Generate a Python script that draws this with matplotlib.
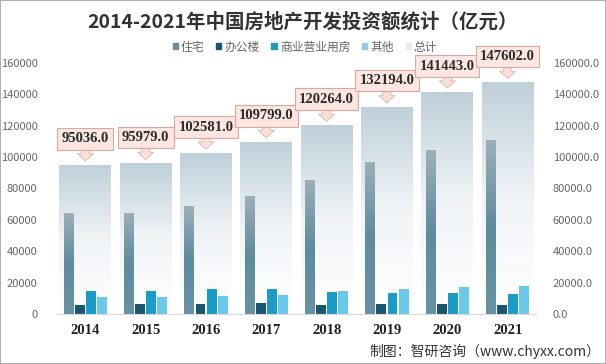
import numpy as np
import matplotlib.pyplot as plt
from matplotlib.colors import LinearSegmentedColormap

plt.rcParams['font.family'] = ['Noto Sans CJK SC', 'DejaVu Sans']

years = ['2014', '2015', '2016', '2017', '2018', '2019', '2020', '2021']
residential = [64352, 64595, 68704, 75148, 85192, 97071, 104446, 111173]
office = [5641, 6210, 6533, 6761, 5996, 6163, 6494, 5974]
commercial = [14346, 14607, 15838, 15640, 14177, 13226, 13076, 12445]
other = [10697, 10567, 11506, 12250, 14899, 15734, 17427, 18010]
total = [95036, 95979, 102581, 109799, 120264, 132194, 141443, 147602]

fig = plt.figure(figsize=(6.06, 3.64), dpi=100)
ax = fig.add_axes([57/606, 50/364, 479/606, 251/364])
x = np.arange(len(years))

# gradient fills
grad_total = LinearSegmentedColormap.from_list('gt', ['#ffffff', '#f0f4f7', '#bfd0d9'])
grad_res = LinearSegmentedColormap.from_list('gr', ['#6892a4', '#5e8b9e', '#9cb0b8'])
g = np.linspace(0, 1, 256).reshape(-1, 1)

def grad_bars(xs, heights, width, cmap, z):
    bars = ax.bar(xs, heights, width, color='none', zorder=z)
    for b in bars:
        im = ax.imshow(g, cmap=cmap, origin='lower', aspect='auto', zorder=z,
                       extent=(b.get_x(), b.get_x() + b.get_width(), 0, b.get_height()))
        im.set_clip_path(b)
    return bars

grad_bars(x, total, 0.86, grad_total, 1)
w = 0.165
step = 0.183
grad_bars(x - 1.5 * step, residential, w, grad_res, 2)
ax.bar(x - 0.5 * step, office, w, color='#1b5670', zorder=2)
ax.bar(x + 0.5 * step, commercial, w, color='#1a9cc6', zorder=2)
ax.bar(x + 1.5 * step, other, w, color='#6cc8ea', zorder=2)

for xi, t in zip(x, total):
    ax.annotate(f'{t:.1f}', xy=(xi, t + 2500), xytext=(xi, t + 16600),
                ha='center', va='center', fontsize=10.5, fontweight='bold',
                family='Liberation Serif', color='#2b2b2b', zorder=5,
                bbox=dict(boxstyle='square,pad=0.3', fc='#fbe6e1', ec='#d6aaa2', lw=0.8),
                arrowprops=dict(arrowstyle='simple,head_width=1.1,head_length=0.5,tail_width=0.55',
                                fc='#fbe0da', ec='#dcb5ad', lw=0.6, shrinkA=0, shrinkB=0))

ax.set_xlim(-0.47, 7.47)
ax.set_ylim(0, 160000)
ax.set_yticks(np.arange(0, 160001, 20000))
ax.set_xticks(x)
ax.set_xticklabels(years, fontsize=10.5, fontweight='bold', family='Liberation Serif', color='#222222')
ax.tick_params(axis='y', length=0, labelsize=8, labelcolor='#666666', pad=14)
ax.tick_params(axis='x', length=0, pad=7)
for s in ['top', 'right', 'left']:
    ax.spines[s].set_visible(False)
ax.spines['bottom'].set_color('#d9d9d9')

ax2 = ax.twinx()
ax2.set_ylim(0, 160000)
ax2.set_yticks(np.arange(0, 160001, 20000))
ax2.set_yticklabels([f'{v:.1f}' for v in np.arange(0, 160001, 20000)])
ax2.tick_params(axis='y', length=0, labelsize=8, labelcolor='#666666', pad=12)
for s in ax2.spines.values():
    s.set_visible(False)

fig.text(303/606, 1 - 22/364, '2014-2021年中国房地产开发投资额统计（亿元）', ha='center', va='center',
         fontsize=14, fontweight='bold', color='#333333')

labels = ['住宅', '办公楼', '商业营业用房', '其他', '总计']
colors = ['#6a8e9c', '#1b5670', '#1a9cb8', '#8ecde2', '#e6edf0']
handles = [plt.Rectangle((0, 0), 1, 1, color=c) for c in colors]
fig.legend(handles, labels, loc='center', bbox_to_anchor=(305/606, 1 - 47/364), ncol=5,
           frameon=False, fontsize=8.5, handlelength=0.45, handleheight=0.45, handletextpad=0.25,
           columnspacing=1.0, labelcolor='#666666')

fig.text(600/606, 1 - 351/364, '制图：智研咨询（www.chyxx.com）', ha='right', va='center',
         fontsize=10, color='#333333')

fig.patches.append(plt.Rectangle((0, 0), 1, 1, transform=fig.transFigure, fill=False,
                                 ec='#b0b0b0', lw=1.5))
fig.savefig('out.png', dpi=100)
